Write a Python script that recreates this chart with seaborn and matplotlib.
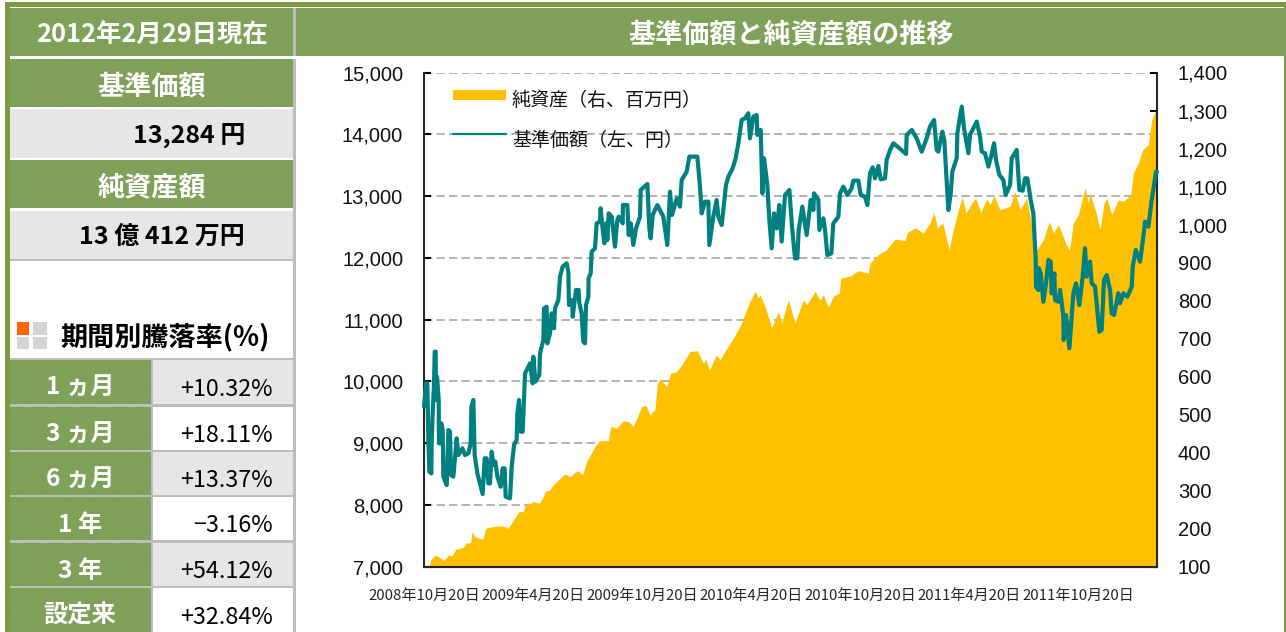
"""
基準価額と純資産額の推移: fund factsheet panel with a NAV line over a net assets area.
"""

import matplotlib
matplotlib.use('Agg')
import matplotlib.pyplot as plt
from matplotlib.patches import Rectangle
import pandas as pd
import seaborn as sns

START_DATE = '2008-10-20'

# days since START_DATE, value in yen
nav_days = [0, 3.4, 5.6, 7.3, 9, 12.3, 12.9, 14.5, 16.8, 17.9, 19.5, 20.1, 21.8, 24.6, 25.1, 27.9, 29, 31.3, 32.4, 38,
            40.8, 43.5, 45.2, 49.1, 54.7, 57.5, 64.2, 68.7, 74.2, 78.1, 79.3, 82.6, 84.8, 89.3, 98.2, 101.6, 104.9,
            107.7, 110.5, 113.3, 116.1, 119.4, 122.8, 128.4, 131.7, 135, 136.7, 144, 146.8, 150.7, 155.1, 156.3, 159,
            161.8, 165.2, 169.1, 177.5, 181.9, 183, 186.4, 193, 194.2, 199.8, 200.9, 205.3, 206.5, 210.9, 213.7,
            217.6, 219.3, 224.9, 227.7, 232.1, 238.8, 241.6, 242.7, 248.3, 248.9, 254.4, 258.9, 260, 263.9, 266.7,
            269.5, 271.2, 275.1, 275.5, 279, 280.7, 286.3, 289, 294.6, 295.7, 298, 301.9, 304.7, 306.9, 309.1, 314.2,
            319.7, 323.6, 325.9, 332.6, 333, 340.4, 342.6, 346, 350.4, 354.9, 361.6, 362.7, 373.9, 377.2, 379.4,
            382.8, 390.6, 400.6, 407.3, 411.8, 415.2, 423, 428.5, 431.3, 439.7, 444.2, 457.6, 462, 464.8, 470.4, 476,
            477.6, 484.3, 489.9, 492.7, 498.3, 505.5, 509.5, 516.7, 521.7, 526.2, 531.8, 537.4, 542.9, 545.7, 551.3,
            556.9, 558, 563.6, 566.4, 569.2, 574.7, 578.1, 582, 585.9, 590.4, 594.8, 598.7, 604.3, 611.6, 616, 621.1,
            625, 627.2, 633.3, 640.6, 647.3, 651.8, 652.9, 660.1, 661.8, 668.5, 671.3, 675.2, 681.9, 685.2, 693.6,
            696.4, 702, 708.7, 715.9, 718.7, 727.1, 731, 738.3, 742.2, 746.6, 751.1, 755, 760.6, 764.5, 771.7, 774.5,
            780.1, 785.7, 794, 806.9, 808, 816.4, 824.7, 833.1, 841.5, 847, 853.8, 858.2, 861, 867.7, 871, 873.8,
            877.8, 881.7, 884.4, 891.7, 892.8, 900.1, 904, 911.2, 914, 925.2, 930.8, 933.6, 939.1, 944.7, 949.2,
            954.2, 957.5, 963.1, 969.8, 973.7, 981, 983.8, 992.1, 996.6, 1002.2, 1006.1, 1010, 1015.6, 1020, 1024,
            1024.5, 1028.4, 1029.5, 1032.3, 1036.8, 1041.2, 1045.2, 1049, 1050.7, 1055.2, 1056.3, 1061.9, 1064.7,
            1070.3, 1070.8, 1074.7, 1080.3, 1087, 1091.5, 1097, 1102.6, 1106.5, 1109.3, 1114.9, 1117.7, 1123.3,
            1130.5, 1134.4, 1138.3, 1142.8, 1148.4, 1151.2, 1155.1, 1162.3, 1165.1, 1170.7, 1177.4, 1184.7, 1186.3,
            1191.4, 1198.6, 1204.2, 1207, 1212.6, 1218.1, 1225.4, 1227]
nav_values = [9590, 9968, 9968, 9051, 8538, 8511, 9051, 9483, 9968, 10481, 10481, 9699, 10076, 9699, 8997, 8997, 9321,
              9213, 8457, 8322, 9213, 9186, 8484, 8457, 9078, 8808, 8916, 8808, 8835, 8997, 9591, 9699, 8808, 8511,
              8177, 8754, 8754, 8349, 8349, 8862, 8646, 8700, 8457, 8295, 8592, 8592, 8133, 8106, 8619, 8970, 9051,
              9483, 9699, 9186, 9186, 10130, 10292, 9968, 10400, 9995, 10103, 10454, 10670, 11182, 11209, 10616,
              10777, 11101, 10858, 11182, 11317, 11695, 11857, 11911, 11776, 11236, 11317, 11047, 11479, 11479, 11263,
              11101, 10642, 10615, 11236, 11371, 11668, 11749, 12100, 12154, 12558, 12585, 12801, 12558, 12235, 12558,
              12289, 12720, 12666, 12181, 12612, 12666, 12558, 12855, 12855, 12370, 12558, 12208, 12477, 12666, 13098,
              13195, 12477, 12316, 12693, 12855, 12666, 12208, 13071, 12693, 12963, 12828, 13260, 13395, 13638, 13638,
              13152, 12720, 12909, 12909, 12208, 12666, 12936, 12666, 12531, 13179, 13314, 13449, 13611, 13854, 14232,
              14258, 14340, 13935, 14285, 14312, 13989, 14070, 13044, 13611, 13179, 12612, 12154, 12720, 12477, 12855,
              12262, 13017, 13098, 12504, 11992, 11992, 12451, 12828, 12370, 12936, 12774, 13044, 12936, 12451, 12639,
              12451, 12046, 12073, 12558, 12666, 13044, 13152, 13017, 13125, 13249, 13249, 13017, 12990, 12855, 13368,
              13465, 13287, 13487, 13271, 13287, 13584, 13746, 13854, 13789, 13681, 13989, 14070, 13935, 13719, 13935,
              14124, 14232, 13746, 13719, 14043, 13908, 13422, 12774, 13044, 13395, 13611, 14016, 14447, 14097, 13692,
              13989, 14205, 13962, 13719, 13692, 13476, 13638, 13854, 13584, 13341, 13260, 13017, 13179, 13611, 13746,
              13098, 13087, 13287, 13287, 12936, 12720, 11965, 11533, 11479, 11830, 11749, 11290, 11587, 11965, 11938,
              11425, 11749, 11317, 11290, 11479, 11047, 10670, 11074, 10535, 11425, 11587, 11236, 11695, 12154, 11695,
              11938, 11587, 11533, 10804, 10831, 11641, 11722, 11479, 11101, 11074, 11425, 11263, 11425, 11371, 11533,
              11857, 12127, 11938, 12343, 12585, 12504, 12936, 13395, 13395]

# days since START_DATE, value in million yen
asset_days = [0, 9, 11.2, 18.4, 24, 33.5, 40.8, 46.3, 53.6, 65.9, 70.3, 78.1, 80.4, 85.4, 98.2, 103.2, 110.5, 121.7,
              132.8, 141.2, 149.6, 159, 166.3, 169.1, 183, 193, 199.8, 202.6, 210.9, 214.8, 222.1, 236, 244.4, 256.7,
              265.6, 272.3, 286.3, 294.6, 308.6, 312.5, 322.5, 333.7, 342.1, 350.4, 364.4, 371.6, 378.3, 386.7, 390.6,
              395, 406.2, 412.9, 423, 434.1, 445.3, 457.6, 467.6, 472.1, 477.6, 488.8, 495.5, 505.5, 517.8, 531.8,
              542.9, 554.1, 559.7, 562.5, 570.8, 582, 593.2, 598.7, 609.9, 621, 626.7, 635, 640.6, 654.5, 662.9, 668.5,
              676.9, 685.2, 695.3, 697.5, 713.1, 727.1, 743.8, 746.6, 760.6, 774.5, 788.5, 805.2, 809.1, 822, 835.9,
              847, 853.8, 859.3, 868.3, 873.8, 878.9, 886.1, 894.5, 901.2, 907.3, 916.8, 923.5, 931.9, 941.9, 947.5,
              954.2, 964.2, 981, 989.4, 997.7, 1008.9, 1014.5, 1025.6, 1036.8, 1046.8, 1053.5, 1061.9, 1073, 1080.3,
              1087, 1095.4, 1106.5, 1112.1, 1114.9, 1126, 1131.6, 1138.3, 1142.8, 1151.2, 1162.3, 1170.7, 1183, 1187.4,
              1195.8, 1203, 1212.6, 1218.1, 1225.4, 1227]
asset_values = [102, 102, 118, 131, 127, 116, 131, 128, 146, 151, 162, 163, 192, 179, 172, 201, 204, 207, 207, 201,
                223, 245, 245, 260, 271, 267, 284, 298, 302, 313, 324, 344, 337, 353, 342, 377, 416, 432, 431, 469,
                464, 484, 482, 469, 521, 524, 499, 514, 583, 593, 574, 609, 613, 637, 666, 668, 635, 646, 616, 657,
                644, 671, 701, 741, 789, 824, 807, 815, 785, 728, 771, 741, 802, 741, 767, 802, 789, 824, 802, 815,
                783, 811, 820, 859, 864, 879, 872, 899, 921, 934, 962, 958, 979, 991, 978, 1004, 1032, 991, 1004, 969,
                934, 986, 1039, 1072, 1030, 1056, 1070, 1032, 1067, 1052, 1076, 1039, 1048, 1087, 1039, 1070, 1021,
                934, 960, 1008, 978, 1000, 956, 932, 1004, 1026, 1096, 1056, 1083, 1026, 986, 1056, 1070, 1026, 1065,
                1061, 1078, 1135, 1162, 1197, 1210, 1276, 1302, 1304]

left_ticks = [7000, 8000, 9000, 10000, 11000, 12000, 13000, 14000, 15000]
right_ticks = [100, 200, 300, 400, 500, 600, 700, 800, 900, 1000, 1100, 1200, 1300, 1400]
date_ticks = ['2008-10-20', '2009-04-20', '2009-10-20', '2010-04-20', '2010-10-20', '2011-04-20', '2011-10-20']
date_labels = ['2008年10月20日', '2009年4月20日', '2009年10月20日', '2010年4月20日', '2010年10月20日', '2011年4月20日',
               '2011年10月20日']
period_labels = ['1 ヵ月', '3 ヵ月', '6 ヵ月', '1 年', '3 年', '設定来']
period_values = ['+10.32%', '+18.11%', '+13.37%', '−3.16%', '+54.12%', '+32.84%']

GREEN = '#7E9F56'
GRAY = '#E6E6E6'
RULE = '#BDBDBD'
GOLD = '#FFC000'
TEAL = '#008080'
JP = ['Noto Sans CJK JP', 'DejaVu Sans']

W, H = 1286, 632


def to_dates(days):
    return pd.to_datetime(START_DATE) + pd.to_timedelta(days, unit='D')


def band(bg, x0, y0, x1, y1, color=GREEN, textured=True):
    bg.add_patch(Rectangle((x0, y0), x1 - x0, y1 - y0, facecolor=color, edgecolor='none'))
    if textured:
        bg.add_patch(Rectangle((x0, y0), x1 - x0, y1 - y0, facecolor='none', edgecolor='#88A865',
                               hatch='///////', linewidth=0))


def draw_side_panel(bg):
    # outer frame
    bg.add_patch(Rectangle((4.5, 1.5), W, 5.5, facecolor='#7C9A42', edgecolor='none'))
    bg.add_patch(Rectangle((4.5, 1.5), 5, H, facecolor='#7C9A42', edgecolor='none'))
    bg.add_patch(Rectangle((1283.5, 1.5), 3, H, facecolor='#7C9A42', edgecolor='none'))

    # headers
    bg.add_patch(Rectangle((293, 8), 3, H, facecolor=RULE, edgecolor='none'))
    bg.add_patch(Rectangle((293, 56), 3, 3, facecolor='white', edgecolor='none'))
    band(bg, 10, 8, 293, 56)
    band(bg, 296, 8, W, 56)
    bg.text(152, 35, '2012年2月29日現在', color='white', fontsize=18.3, fontweight='bold', ha='center', va='center')
    bg.text(791, 34.5, '基準価額と純資産額の推移', color='white', fontsize=19.5, fontweight='bold', ha='center', va='center')

    band(bg, 10, 59, 293, 107)
    bg.text(152, 86, '基準価額', color='white', fontsize=19.5, fontweight='bold', ha='center', va='center')
    band(bg, 10, 109, 293, 158, GRAY, False)
    bg.text(245, 136, '13,284 円', color='black', fontsize=18, fontweight='bold', ha='right', va='center')
    band(bg, 10, 160, 293, 208)
    bg.text(152, 187, '純資産額', color='white', fontsize=19.5, fontweight='bold', ha='center', va='center')
    band(bg, 10, 211, 293, 259, GRAY, False)
    bg.text(245, 237, '13 億 412 万円', color='black', fontsize=18, fontweight='bold', ha='right', va='center')
    bg.add_patch(Rectangle((10, 259), 283, 1.5, facecolor=RULE, edgecolor='none'))

    # small square icon next to the table title
    bg.add_patch(Rectangle((17, 322), 12, 13, facecolor='#FF6600', edgecolor='none'))
    bg.add_patch(Rectangle((33, 322), 14, 13, facecolor='#D4D4D4', edgecolor='none'))
    bg.add_patch(Rectangle((17, 337), 12, 12, facecolor='#D4D4D4', edgecolor='none'))
    bg.add_patch(Rectangle((33, 337), 14, 12, facecolor='#D4D4D4', edgecolor='none'))
    bg.text(60, 337, '期間別騰落率(%)', color='black', fontsize=19.5, fontweight='bold', ha='left', va='center')

    # period table
    row_top = [360, 407, 452, 497, 543, 588]
    row_bottom = [404, 450, 495, 540, 586, 632]
    bg.add_patch(Rectangle((10, 358), 283, H - 358, facecolor=RULE, edgecolor='none'))
    for i, (label, value) in enumerate(zip(period_labels, period_values)):
        y0, y1 = row_top[i], row_bottom[i]
        band(bg, 10, y0, 151, y1)
        band(bg, 153, y0, 293, y1, GRAY if i % 2 == 0 else 'white', False)
        bg.text(80, (y0 + y1) / 2 + 6, label, color='white', fontsize=17.5, fontweight='bold', ha='center', va='center')
        bg.text(273, (y0 + y1) / 2 + 7, value, color='black', fontsize=16.8, ha='right', va='center')


def draw_chart(fig):
    left, right = 424 / W, 1157 / W
    bottom, top = 1 - 566.7 / H, 1 - 72.5 / H
    rect = [left, bottom, right - left, top - bottom]

    # grid lives on the lowest axes so the area covers it, the line goes on top of both
    ax = fig.add_axes(rect, facecolor='none')
    ax_area = ax.twinx()
    ax_line = ax.twinx()
    ax.set_zorder(1)
    ax_area.set_zorder(2)
    ax_line.set_zorder(3)
    for a in (ax_area, ax_line):
        a.patch.set_visible(False)

    x_min, x_max = to_dates([0])[0], to_dates([1227])[0]

    ax_area.fill_between(to_dates(asset_days), asset_values, 100, color=GOLD, linewidth=0)
    sns.lineplot(x=to_dates(nav_days), y=nav_values, ax=ax_line, color=TEAL, linewidth=3.0, legend=False,
                 errorbar=None, estimator=None, sort=False, clip_on=False, solid_joinstyle='round')

    ax.set_xlim(x_min, x_max)
    ax.set_ylim(7000, 15000)
    ax_line.set_ylim(7000, 15000)
    ax_area.set_ylim(100, 1400)
    ax_area.set_xlim(x_min, x_max)
    ax_line.set_xlim(x_min, x_max)
    ax_line.set_ylabel('')

    ax.set_yticks(left_ticks)
    ax.set_yticklabels(['{:,}'.format(v) for v in left_ticks], fontsize=14.5, family='Liberation Sans')
    ax.grid(axis='y', color='#A6A6A6', linestyle=(0, (5, 2.5)), linewidth=1.2)
    ax.set_axisbelow(True)
    ax.tick_params(axis='y', direction='in', length=5, width=1.5, color='black', pad=15, labelcolor='#111111')

    ax.set_xticks(pd.to_datetime(date_ticks))
    ax.set_xticklabels(date_labels, fontsize=10.8, family=JP)
    minor = pd.date_range('2008-10-20', '2012-02-20', freq=pd.DateOffset(months=1))
    ax.set_xticks(minor, minor=True)
    ax.tick_params(axis='x', which='major', length=4, width=1.5, pad=12)
    ax.tick_params(axis='x', which='minor', length=2, width=1.5)
    ax.tick_params(axis='x', which='both', direction='out')

    ax_area.set_yticks(right_ticks)
    ax_area.set_yticklabels(['{:,}'.format(v) for v in right_ticks], fontsize=14.5, family='Liberation Sans')
    ax_area.tick_params(axis='y', direction='in', length=5, width=1.5, color='black', pad=15, labelcolor='#111111')
    ax_line.axis('off')

    for a in (ax, ax_area):
        for side in ('top', 'left', 'right', 'bottom'):
            a.spines[side].set_visible(False)
    ax.spines['left'].set_visible(True)
    ax.spines['left'].set_linewidth(1.5)
    ax.spines['bottom'].set_visible(True)
    ax.spines['bottom'].set_linewidth(1.5)
    ax_area.spines['right'].set_visible(True)
    ax_area.spines['right'].set_linewidth(1.5)
    ax_area.spines['bottom'].set_visible(True)
    ax_area.spines['bottom'].set_linewidth(1.5)
    return ax


if __name__ == '__main__':

    sns.set_style('white')
    plt.rcParams['font.family'] = JP
    plt.rcParams['axes.unicode_minus'] = False
    plt.rcParams['hatch.linewidth'] = 0.4

    fig = plt.figure(figsize=(W / 100, H / 100), dpi=100, facecolor='white')

    bg = fig.add_axes([0, 0, 1, 1], zorder=-1)
    bg.set_xlim(0, W)
    bg.set_ylim(H, 0)
    bg.axis('off')
    draw_side_panel(bg)

    draw_chart(fig)

    # legend is placed by hand to sit at the top left of the plot, as in the source
    overlay = fig.add_axes([0, 0, 1, 1], zorder=10, facecolor='none')
    overlay.set_xlim(0, W)
    overlay.set_ylim(H, 0)
    overlay.axis('off')
    overlay.add_patch(Rectangle((453, 90), 53, 10, facecolor=GOLD, edgecolor='none'))
    overlay.plot([453, 506], [134, 134], color=TEAL, linewidth=1.6)
    overlay.text(512, 101, '純資産（右、百万円）', fontsize=13.7, color='#111111', ha='left', va='center')
    overlay.text(512, 141, '基準価額（左、円）', fontsize=13.7, color='#111111', ha='left', va='center')

    fig.savefig('out.png', dpi=100)
